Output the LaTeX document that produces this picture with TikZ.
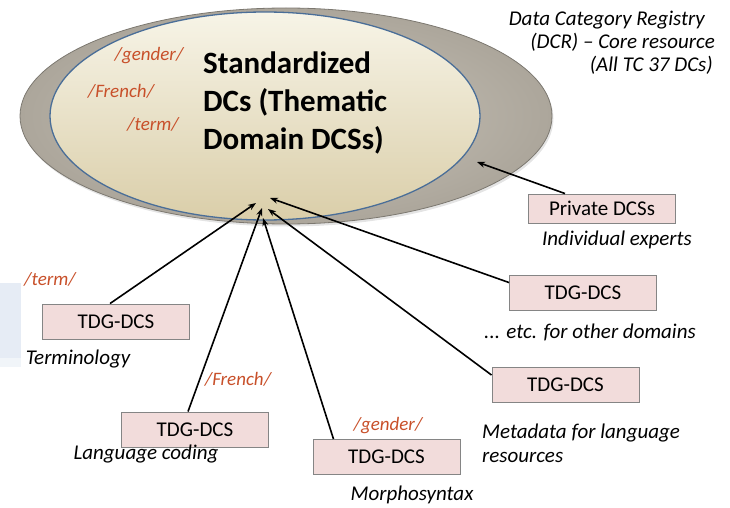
\documentclass[tikz,border=0pt]{standalone}
\usepackage{fontspec}
\setmainfont{Carlito}
\usetikzlibrary{arrows.meta,calc}

\definecolor{boxfill}{HTML}{F2DCDB}
\definecolor{boxline}{HTML}{858585}
\definecolor{tagred}{HTML}{C8502A}
\definecolor{ringin}{HTML}{CBC6BC}
\definecolor{ringout}{HTML}{ACA69B}
\definecolor{ringline}{HTML}{7C7870}
\definecolor{coretop}{HTML}{F7F4E7}
\definecolor{coremid}{HTML}{F0EBD6}
\definecolor{corebot}{HTML}{DACEA9}
\definecolor{coreline}{HTML}{4A6E98}
\definecolor{sidepanel}{HTML}{E6ECF5}

\tikzset{
  dcsbox/.style={draw=boxline, line width=0.9pt, fill=boxfill,
    minimum width=147pt, minimum height=35pt, inner sep=0pt,
    font=\fontsize{21}{24}\selectfont},
  caption/.style={font=\fontsize{21}{24}\selectfont\itshape, inner sep=0pt},
  tag/.style={font=\fontsize{19}{22}\selectfont\itshape, text=tagred, inner sep=0pt},
  headline/.style={font=\fontsize{31}{36}\selectfont\bfseries, inner sep=0pt, anchor=base west},
  feed/.style={line width=1.6pt, -{Stealth[length=8pt,width=6pt]}},
}

\begin{document}
\begin{tikzpicture}[x=1pt,y=-1pt]
\useasboundingbox (0,0) rectangle (730,508);

% pale side panel on the left edge
\fill[sidepanel] (0,283) rectangle (21,358);
\fill[sidepanel!55] (0,358) rectangle (21,367);

% registry ring and the standardized core
\fill[black!30, opacity=0.35] (287.5,118.5) ellipse [x radius=266, y radius=108];
\draw[ringline, line width=0.8pt, inner color=ringin, outer color=ringout]
  (286,116) ellipse [x radius=266, y radius=108];
\draw[coreline, line width=1.3pt, top color=coretop, middle color=coremid, bottom color=corebot]
  (265,116) ellipse [x radius=215, y radius=104];

\node[headline] (title1) at (203,74) {Standardized};
\node[headline] (title2) at (203,112) {DCs (Thematic};
\node[headline] (title3) at (203,149) {Domain DCSs)};

\node[tag, anchor=base] (gIn) at (149,61) {/gender/};
\node[tag, anchor=base] (fIn) at (121,98) {/French/};
\node[tag, anchor=base] (tIn) at (153,130) {/term/};

% registry caption
\node[caption, anchor=base east] (reg1) at (705,26) {Data Category Registry};
\node[caption, anchor=base east] (reg2) at (715,49) {(DCR) – Core resource};
\node[caption, anchor=base east] (reg3) at (713,72) {(All TC 37 DCs)};

% contributing sets
\node[dcsbox, minimum height=29pt] (priv) at (602,208.5) {Private DCSs};
\node[dcsbox] (etc)   at (583,292.5) {TDG-DCS};
\node[dcsbox] (meta)  at (565.5,385) {TDG-DCS};
\node[dcsbox] (morph) at (386.5,457) {TDG-DCS};
\node[dcsbox] (lang)  at (195,429.5) {TDG-DCS};
\node[dcsbox] (term)  at (116,321.5) {TDG-DCS};

\node[caption, anchor=base] (privc) at (617,245) {Individual experts};
\node[caption, anchor=base] (etcc) at (590,338) {... etc. for other domains};
\node[caption, anchor=base west] (metac1) at (482,438) {Metadata for language};
\node[caption, anchor=base west] (metac2) at (482,462) {resources};
\node[caption, anchor=base] (morphc) at (412,500) {Morphosyntax};
\node[caption, anchor=base] (langc) at (146,459) {Language coding};
\node[caption, anchor=base] (termc) at (78,364) {Terminology};

\node[tag, anchor=base] (tOut) at (50,285) {/term/};
\node[tag, anchor=base] (fOut) at (238,385) {/French/};
\node[tag, anchor=base] (gOut) at (388,430) {/gender/};

% arrow targets inside the core
\coordinate (hitTerm)  at (256,203);
\coordinate (hitLang)  at (262,208);
\coordinate (hitMorph) at (263,218);
\coordinate (hitMeta)  at (268,209);
\coordinate (hitEtc)   at (270,198);
\coordinate (hitPriv)  at (477,162);

\draw[feed] ([xshift=-6pt]term.north) -- (hitTerm);
\draw[feed] ([xshift=-7pt]lang.north) -- (hitLang);
\draw[feed] ([xshift=-53pt]morph.north) -- (hitMorph);
\draw[feed] ([yshift=-8pt]meta.north west) -- (hitMeta);
\draw[feed] ([yshift=-8pt]etc.north west) -- (hitEtc);
\draw[feed] ([xshift=-37pt]priv.north) -- (hitPriv);
\end{tikzpicture}
\end{document}
